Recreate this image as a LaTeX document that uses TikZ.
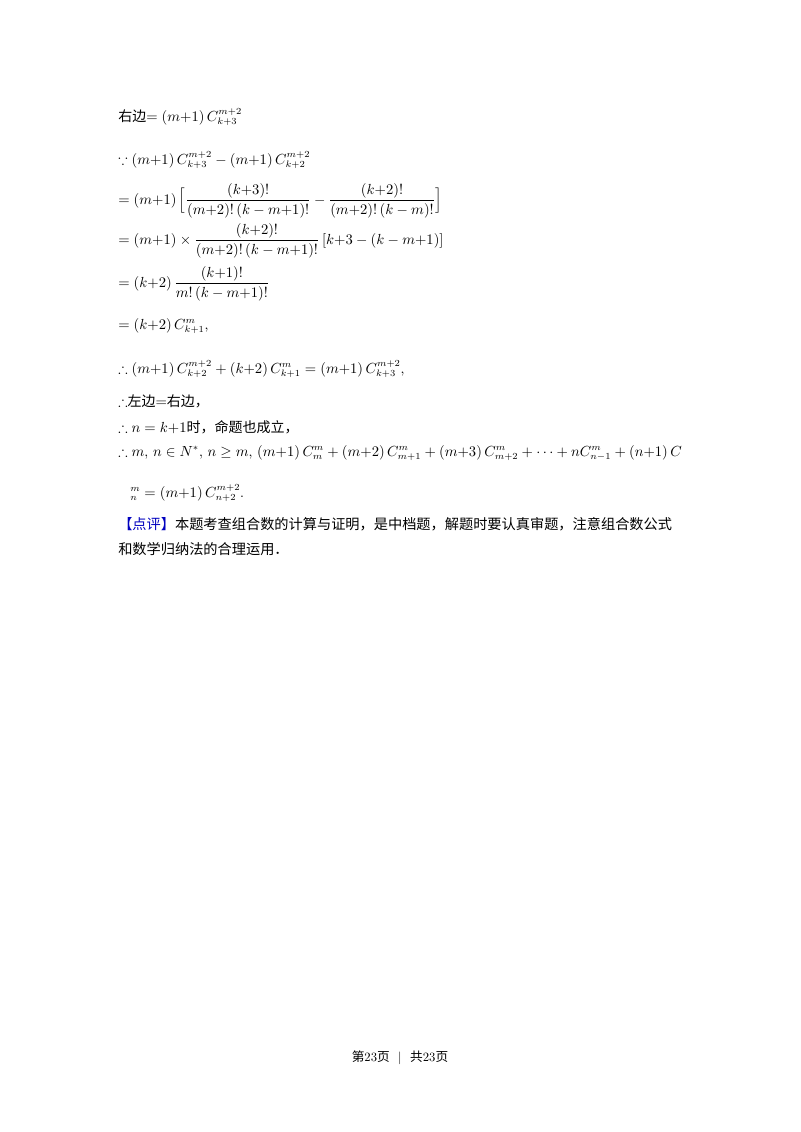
\documentclass[tikz,border=0pt]{standalone}
\usepackage{amsmath,amssymb}
\usepackage{fontspec}
\newfontfamily\cjk{Noto Sans CJK SC}
\begin{document}
\begin{tikzpicture}[x=0.75pt,y=-0.75pt,
  line/.style={anchor=base west,inner sep=0pt,font=\fontsize{10.5}{12}\selectfont},
  cline/.style={anchor=base west,inner sep=0pt,font=\fontsize{10.65}{12}\selectfont\cjk}]
\useasboundingbox[fill=white] (0,0) rectangle (800,1132);
\node[line] (l1) at (118,121) {{\cjk 右边}$=(m{+}1)\,C_{k+3}^{m+2}$};
\node[line] (l2) at (118,164) {$\because(m{+}1)\,C_{k+3}^{m+2}-(m{+}1)\,C_{k+2}^{m+2}$};
\node[line] (l3) at (118,204) {$=(m{+}1)\,\Big[\dfrac{(k{+}3)!}{(m{+}2)!\,(k-m{+}1)!}-\dfrac{(k{+}2)!}{(m{+}2)!\,(k-m)!}\Big]$};
\node[line] (l4) at (118,244) {$=(m{+}1)\times\dfrac{(k{+}2)!}{(m{+}2)!\,(k-m{+}1)!}\,[k{+}3-(k-m{+}1)]$};
\node[line] (l5) at (118,287) {$=(k{+}2)\,\dfrac{(k{+}1)!}{m!\,(k-m{+}1)!}$};
\node[line] (l6) at (118,329) {$=(k{+}2)\,C_{k+1}^{m}$,};
\node[line] (l7) at (118,373) {$\therefore(m{+}1)\,C_{k+2}^{m+2}+(k{+}2)\,C_{k+1}^{m}=(m{+}1)\,C_{k+3}^{m+2}$,};
\node[line] (l8) at (118,406) {$\therefore${\cjk 左边}$=${\cjk 右边，}};
\node[line] (l9) at (118,432) {$\therefore n=k{+}1${\cjk 时，命题也成立，}};
\node[line] (l10) at (118,456) {$\therefore m$, $n\in N^{*}$, $n\geq m$,\ $(m{+}1)\,C_{m}^{m}+(m{+}2)\,C_{m+1}^{m}+(m{+}3)\,C_{m+2}^{m}+\dots+nC_{n-1}^{m}+(n{+}1)\,C$};
\node[line] (l11) at (130,497) {$_{n}^{m}=(m{+}1)\,C_{n+2}^{m+2}$.};
\node[cline] (l12) at (118,529) {\textcolor{blue!75!black}{【点评】}本题考查组合数的计算与证明，是中档题，解题时要认真审题，注意组合数公式};
\node[cline] (l13) at (118,554) {和数学归纳法的合理运用．};
\node[anchor=base,inner sep=0pt,font=\fontsize{9.5}{11}\selectfont] (ft) at (400,1061) {{\cjk 第}23{\cjk 页}\ \ |\ \ {\cjk 共}23{\cjk 页}};
\end{tikzpicture}
\end{document}
